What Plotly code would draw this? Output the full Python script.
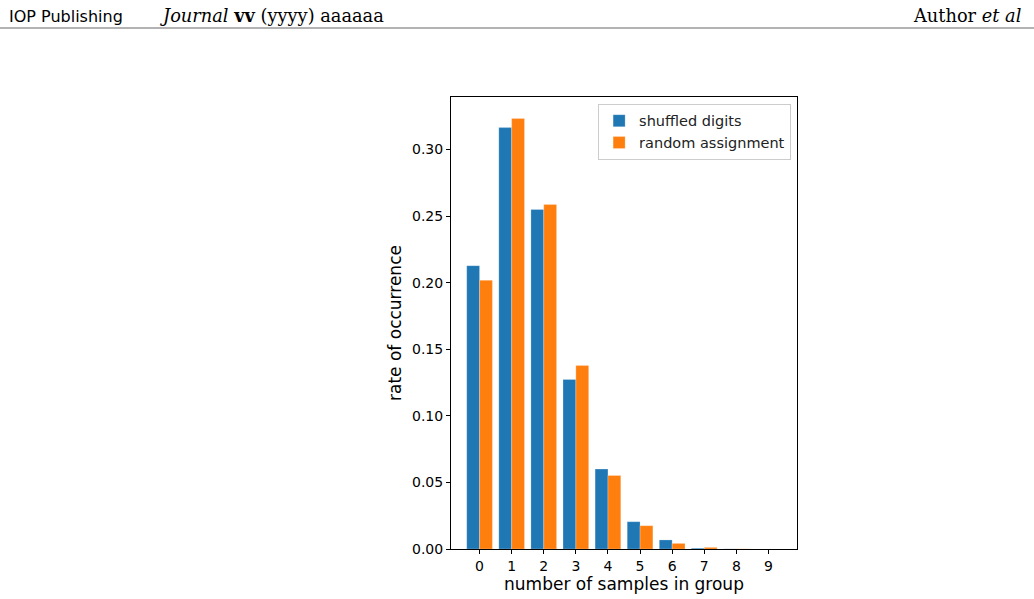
import plotly.graph_objects as go

categories = [0, 1, 2, 3, 4, 5, 6, 7, 8, 9]
shuffled_digits = [0.2128, 0.3165, 0.2550, 0.1273, 0.0600, 0.0205, 0.0068, 0.0006, 0.0001, 0.00002]
random_assignment = [0.2018, 0.3233, 0.2587, 0.1378, 0.0552, 0.0175, 0.0042, 0.0012, 0.0001, 0.00001]
y_ticks = [0.00, 0.05, 0.10, 0.15, 0.20, 0.25, 0.30]
y_tick_text = ["0.00", "0.05", "0.10", "0.15", "0.20", "0.25", "0.30"]

FONT = "DejaVu Sans"

fig = go.Figure()
fig.add_trace(go.Bar(x=categories, y=shuffled_digits, name="shuffled digits",
                     marker=dict(color="#1f77b4", line=dict(color="rgba(255,255,255,0.4)", width=0.6))))
fig.add_trace(go.Bar(x=categories, y=random_assignment, name="random assignment",
                     marker=dict(color="#ff7f0e", line=dict(color="rgba(255,255,255,0.4)", width=0.6))))

fig.update_layout(
    width=1034, height=599,
    margin=dict(l=451, r=237, t=97, b=50, autoexpand=False),
    paper_bgcolor="white", plot_bgcolor="white",
    barmode="group", bargap=0.2, bargroupgap=0,
    font=dict(family=FONT, size=14, color="black"),
    showlegend=True,
    legend=dict(x=0.983, y=0.985, xanchor="right", yanchor="top",
                bgcolor="rgba(255,255,255,0.8)", bordercolor="#cccccc", borderwidth=1,
                font=dict(family=FONT, size=14.5, color="#222222"),
                itemwidth=30, tracegroupgap=0),
    xaxis=dict(range=[-0.89, 9.89], tickmode="array", tickvals=categories,
               ticktext=[str(c) for c in categories],
               ticks="outside", ticklen=4, tickcolor="black", tickwidth=1,
               showline=True, linecolor="black", linewidth=1, mirror=True,
               showgrid=False, zeroline=False,
               title=dict(text="number of samples in group", font=dict(family=FONT, size=17), standoff=2),
               tickfont=dict(family=FONT, size=14)),
    yaxis=dict(range=[0, 0.3395], tickmode="array", tickvals=y_ticks, ticktext=y_tick_text,
               ticks="outside", ticklen=4, tickcolor="black", tickwidth=1,
               showline=True, linecolor="black", linewidth=1, mirror=True,
               showgrid=False, zeroline=False,
               title=dict(text="rate of occurrence", font=dict(family=FONT, size=17), standoff=6),
               tickfont=dict(family=FONT, size=14)),
)

# Page header
W, L = 346.0, 451.0
H, B = 452.0, 549.0
def px(x):
    return (x - L) / W
def py(y):
    return (B - y) / H

fig.add_annotation(text="IOP Publishing", xref="paper", yref="paper", x=px(7), y=py(16),
                   xanchor="left", yanchor="middle", showarrow=False,
                   font=dict(family=FONT, size=16, color="black"))
fig.add_annotation(text="<i>Journal</i> <b>vv</b> (yyyy) aaaaaa", xref="paper", yref="paper",
                   x=px(158), y=py(15), xanchor="left", yanchor="middle", showarrow=False,
                   font=dict(family="DejaVu Serif", size=17.8, color="black"))
fig.add_annotation(text="Author <i>et al</i>", xref="paper", yref="paper",
                   x=px(1023), y=py(15), xanchor="right", yanchor="middle", showarrow=False,
                   font=dict(family="DejaVu Serif", size=17.8, color="black"))
fig.add_shape(type="line", xref="paper", yref="paper", x0=px(0), x1=px(1034), y0=py(28), y1=py(28),
              line=dict(color="#666666", width=1))

fig.write_html("out.html")
